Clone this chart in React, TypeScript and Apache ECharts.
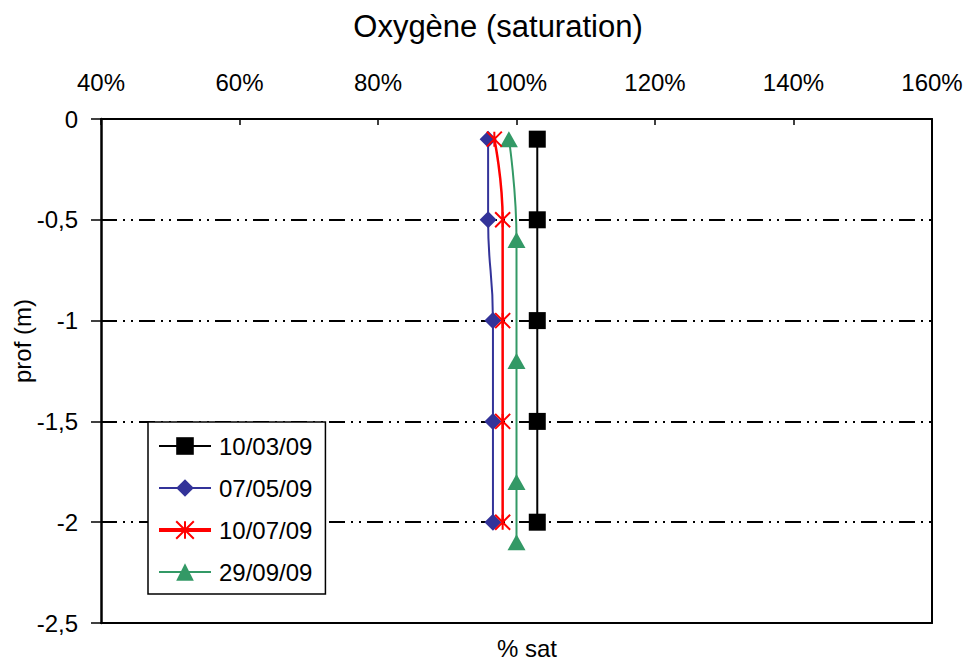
import React, { useEffect, useRef } from "react";
import * as echarts from "echarts";

const seriesNames = ["10/03/09", "07/05/09", "10/07/09", "29/09/09"];
const depthsA = [-0.1, -0.5, -1, -1.5, -2];
const satA = [103, 103, 103, 103, 103];
const depthsB = [-0.1, -0.5, -1, -1.5, -2];
const satB = [95.9, 95.9, 96.6, 96.6, 96.6];
const depthsC = [-0.1, -0.5, -1, -1.5, -2];
const satC = [96.8, 98, 98, 98, 98];
const depthsD = [-0.1, -0.6, -1.2, -1.8, -2.1];
const satD = [98.9, 100, 100, 100, 100];
const xTicks = [40, 60, 80, 100, 120, 140, 160];
const yTicks = [0, -0.5, -1, -1.5, -2, -2.5];

const FONT = "'Liberation Sans', Arial, Helvetica, sans-serif";
const ASTERISK = "path://M0,0L16,16M16,0L0,16M8,0L8,16";

function pairs(xs: number[], ys: number[]) {
  return xs.map((x, i) => [x, ys[i]]);
}

export default function App() {
  const ref = useRef<HTMLDivElement>(null);
  useEffect(() => {
    if (!ref.current) return;
    const chart = echarts.init(ref.current, null, { renderer: "svg" });
    const colors = ["#000000", "#333399", "#ff0000", "#339966"];
    chart.setOption({
      animation: false,
      textStyle: { fontFamily: FONT },
      grid: { left: 101, top: 119, right: 37, bottom: 37, containLabel: false },
      xAxis: [
        {
          type: "value",
          position: "top",
          min: xTicks[0],
          max: xTicks[xTicks.length - 1],
          interval: 20,
          axisLine: { show: true, lineStyle: { color: "#000", width: 2 } },
          axisTick: { show: true, inside: true, length: 6, lineStyle: { color: "#000", width: 1.5 } },
          axisLabel: {
            formatter: (v: number) => `${v}%`,
            fontSize: 24,
            color: "#000",
            fontFamily: FONT,
            margin: 25,
          },
          splitLine: { show: false },
        },
        {
          type: "value",
          position: "bottom",
          min: xTicks[0],
          max: xTicks[xTicks.length - 1],
          interval: 20,
          axisLine: { show: true, onZero: false, lineStyle: { color: "#000", width: 2 } },
          axisTick: { show: false },
          axisLabel: { show: false },
          splitLine: { show: false },
        },
      ],
      yAxis: [
        {
          type: "value",
          position: "left",
          min: yTicks[yTicks.length - 1],
          max: yTicks[0],
          interval: 0.5,
          axisLine: { show: true, onZero: false, lineStyle: { color: "#000", width: 2.5 } },
          axisTick: { show: true, inside: false, length: 10, lineStyle: { color: "#000", width: 1.5 } },
          axisLabel: {
            formatter: (v: number) => String(v).replace(".", ","),
            fontSize: 24,
            color: "#000",
            fontFamily: FONT,
            margin: 23,
          },
          splitLine: {
            show: true,
            lineStyle: { color: "#000", width: 2, type: [16, 6, 2, 6, 2, 6] },
          },
        },
        {
          type: "value",
          position: "right",
          min: yTicks[yTicks.length - 1],
          max: yTicks[0],
          interval: 0.5,
          axisLine: { show: true, onZero: false, lineStyle: { color: "#000", width: 2 } },
          axisTick: { show: false },
          axisLabel: { show: false },
          splitLine: { show: false },
        },
      ],
      legend: {
        orient: "vertical",
        left: 148,
        top: 422,
        padding: [12, 13, 10, 9],
        itemGap: 18,
        itemWidth: 52,
        itemHeight: 22,
        borderColor: "#000",
        borderWidth: 1.5,
        backgroundColor: "#fff",
        textStyle: { fontSize: 24, color: "#000", fontFamily: FONT, lineHeight: 24, padding: [0, 0, 0, 3] },
        data: seriesNames.map((n, i) =>
          i === 2 ? { name: n, lineStyle: { width: 4 } } : { name: n }
        ),
      },
      series: [
        {
          name: seriesNames[0],
          type: "line",
          xAxisIndex: 0,
          yAxisIndex: 0,
          data: pairs(satA, depthsA),
          symbol: "rect",
          symbolSize: 17,
          smooth: true,
          lineStyle: { color: colors[0], width: 2 },
          itemStyle: { color: colors[0] },
          z: 5,
        },
        {
          name: seriesNames[1],
          type: "line",
          xAxisIndex: 0,
          yAxisIndex: 0,
          data: pairs(satB, depthsB),
          symbol: "diamond",
          symbolSize: 17,
          smooth: true,
          lineStyle: { color: colors[1], width: 2 },
          itemStyle: { color: colors[1] },
          z: 5,
        },
        {
          name: seriesNames[2],
          type: "line",
          xAxisIndex: 0,
          yAxisIndex: 0,
          data: pairs(satC, depthsC),
          symbol: ASTERISK,
          symbolSize: 15,
          smooth: true,
          lineStyle: { color: colors[2], width: 2.5 },
          itemStyle: { color: colors[2], borderColor: colors[2], borderWidth: 2 },
          z: 6,
        },
        {
          name: seriesNames[3],
          type: "line",
          xAxisIndex: 0,
          yAxisIndex: 0,
          data: pairs(satD, depthsD),
          symbol: "triangle",
          symbolSize: [18, 16],
          smooth: true,
          lineStyle: { color: colors[3], width: 2 },
          itemStyle: { color: colors[3] },
          z: 5,
        },
      ],
      graphic: [
        {
          type: "text",
          x: 498,
          y: 26,
          style: {
            text: "Oxygène (saturation)",
            fontSize: 31,
            fontFamily: FONT,
            fill: "#000",
            textAlign: "center",
            textVerticalAlign: "middle",
          },
        },
        {
          type: "text",
          x: 527,
          y: 648,
          style: {
            text: "% sat",
            fontSize: 24,
            fontFamily: FONT,
            fill: "#000",
            textAlign: "center",
            textVerticalAlign: "middle",
          },
        },
        {
          type: "text",
          x: 22,
          y: 341,
          rotation: Math.PI / 2,
          style: {
            text: "prof (m)",
            fontSize: 24,
            fontFamily: FONT,
            fill: "#000",
            textAlign: "center",
            textVerticalAlign: "middle",
          },
        },
      ],
    });
    return () => chart.dispose();
  }, []);
  return (
    <div
      ref={ref}
      style={{ position: "fixed", left: 0, top: 0, width: 969, height: 660, background: "#fff" }}
    />
  );
}
